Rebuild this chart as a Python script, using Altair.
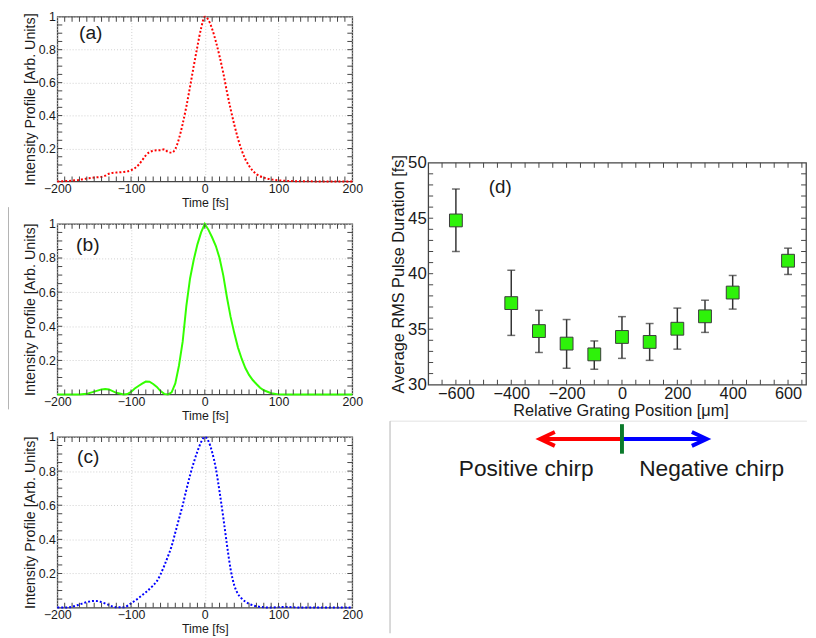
import altair as alt
import pandas as pd

FONT = "Liberation Sans"
INK = "#1a1a1a"
FRAME = "#444444"
GRID = "#cfcfcf"

# ---------------- data: panel (a) ----------------
a_time = [-200, -190, -180, -170, -160, -150, -140, -135, -130, -125, -120, -110, -100,
          -95, -90, -85, -80, -75, -70, -65, -60, -55, -50, -45, -40, -35, -30, -25, -20,
          -15, -10, -5, 0, 5, 10, 15, 20, 25, 30, 35, 40, 45, 50, 55, 60, 70, 80, 90, 100,
          110, 120, 140, 160, 180, 200]
a_int = [0.0, 0.002, 0.005, 0.01, 0.018, 0.024, 0.028, 0.035, 0.047, 0.052, 0.054, 0.058, 0.068,
         0.08, 0.1, 0.128, 0.158, 0.178, 0.186, 0.19, 0.19, 0.195, 0.18, 0.175, 0.197, 0.26, 0.35,
         0.455, 0.575, 0.7, 0.82, 0.93, 1.0, 0.98, 0.925, 0.85, 0.76, 0.66, 0.545, 0.44, 0.345,
         0.26, 0.19, 0.135, 0.095, 0.045, 0.023, 0.013, 0.007, 0.004, 0.002, 0.001, 0.0, 0.0, 0.0]

# ---------------- data: panel (b) ----------------
b_time = [-200, -180, -170, -160, -150, -140, -135, -130, -120, -110, -105, -100, -95, -90,
          -85, -80, -75, -70, -65, -60, -55, -50, -45, -40, -35, -30, -25, -20, -15, -10, -5,
          0, 5, 10, 15, 20, 25, 30, 35, 40, 45, 50, 55, 60, 65, 70, 75, 80, 90, 100, 110, 150, 200]
b_int = [0, 0, 0, 0.004, 0.017, 0.03, 0.033, 0.03, 0.01, 0, 0.003, 0.015, 0.035, 0.05,
         0.064, 0.076, 0.075, 0.062, 0.045, 0.02, 0.004, 0, 0.013, 0.065, 0.17, 0.31, 0.52, 0.68,
         0.79, 0.88, 0.95, 1.0, 0.965, 0.92, 0.87, 0.8, 0.7, 0.57, 0.455, 0.36, 0.275, 0.21,
         0.155, 0.115, 0.085, 0.062, 0.04, 0.025, 0.008, 0.001, 0, 0, 0]

# ---------------- data: panel (c) ----------------
c_time = [-200, -190, -180, -170, -160, -150, -145, -140, -130, -120, -110, -100, -90, -80, -70,
          -65, -60, -55, -50, -45, -40, -35, -30, -25, -20, -15, -10, -5, 0, 5, 10, 15, 20, 25,
          30, 35, 40, 45, 50, 55, 60, 70, 80, 90, 100, 110, 120, 130, 200]
c_int = [0, 0, 0.005, 0.018, 0.032, 0.039, 0.038, 0.032, 0.015, 0.002, 0.002, 0.025, 0.055, 0.09,
         0.13, 0.155, 0.195, 0.245, 0.3, 0.36, 0.44, 0.52, 0.6, 0.69, 0.775, 0.85, 0.915, 0.97,
         1.0, 0.975, 0.91, 0.815, 0.68, 0.53, 0.37, 0.225, 0.13, 0.08, 0.053, 0.035, 0.022,
         0.008, 0.002, 0, 0.003, 0.004, 0.002, 0, 0]

time_ticks = [-200, -100, 0, 100, 200]
int_ticks = [0.2, 0.4, 0.6, 0.8, 1]
time_minor = [-190, -180, -170, -160, -150, -140, -130, -120, -110, -100, -90, -80, -70, -60,
              -50, -40, -30, -20, -10, 0, 10, 20, 30, 40, 50, 60, 70, 80, 90, 100, 110, 120,
              130, 140, 150, 160, 170, 180, 190]
int_minor = [0.05, 0.1, 0.15, 0.2, 0.25, 0.3, 0.35, 0.4, 0.45, 0.5, 0.55, 0.6, 0.65, 0.7,
             0.75, 0.8, 0.85, 0.9, 0.95]

# ---------------- data: panel (d) ----------------
grating_pos = [-600, -400, -300, -200, -100, 0, 100, 200, 300, 400, 600]
rms_dur = [44.8, 37.35, 34.83, 33.7, 32.73, 34.3, 33.85, 35.04, 36.16, 38.3, 41.17]
dur_hi = [47.63, 40.31, 36.7, 35.87, 33.94, 36.13, 35.51, 36.9, 37.61, 39.84, 42.3]
dur_lo = [42.0, 34.44, 32.9, 31.48, 31.39, 32.37, 32.19, 33.2, 34.71, 36.81, 39.93]
grating_ticks = [-600, -400, -200, 0, 200, 400, 600]
dur_ticks = [30, 35, 40, 45, 50]
grating_minor = [-650, -600, -550, -500, -450, -400, -350, -300, -250, -200, -150, -100, -50,
                 0, 50, 100, 150, 200, 250, 300, 350, 400, 450, 500, 550, 600, 650]
dur_minor = [31, 32, 33, 34, 35, 36, 37, 38, 39, 40, 41, 42, 43, 44, 45, 46, 47, 48, 49]

# chirp annotation under panel (d), in panel (d) data units
chirp_labels = ["Positive chirp", "Negative chirp"]
chirp_label_pos = [-346, 324]
chirp_label_y = 21.73
arrow_tips = [-296, 306]
arrow_colors = ["#ff0000", "#0000ff"]
arrow_y = 25.11
zero_mark = [0, 26.44, 23.78]

FULL_W = 299
TICK = 5


def frame_ticks(X, Y, xf, yf, xmin, xmax, ymin, ymax, xvals, yvals):
    """Small inward ticks along the four edges of a panel."""
    out = []
    for yv, off in ((ymin, -TICK / 2), (ymax, TICK / 2)):
        df = pd.DataFrame({xf: xvals, yf: [yv] * len(xvals)})
        out.append(alt.Chart(df).mark_tick(orient="vertical", size=TICK, thickness=1,
                                           color=FRAME, yOffset=off, opacity=1).encode(
            x=X(xf), y=Y(yf)))
    for xv, off in ((xmin, TICK / 2), (xmax, -TICK / 2)):
        df = pd.DataFrame({xf: [xv] * len(yvals), yf: yvals})
        out.append(alt.Chart(df).mark_tick(orient="horizontal", size=TICK, thickness=1,
                                           color=FRAME, xOffset=off, opacity=1).encode(
            x=X(xf), y=Y(yf)))
    return out


def profile_panel(time, inten, color, dash, label, lab_t, lab_i, height, interp, extras):
    xs = alt.Scale(domain=[-200, 200], nice=False, zero=False)
    ys = alt.Scale(domain=[0, 1], nice=False, zero=False)
    xax = alt.Axis(values=time_ticks, title="Time [fs]", labelFontSize=12.5, titleFontSize=12.5,
                   labelPadding=1, titlePadding=1.5, tickSize=0, grid=True, gridColor=GRID,
                   gridDash=[1, 2], domain=False, labelFlush=False, labelColor=INK,
                   titleColor=INK, titleFontWeight="normal")
    yax = alt.Axis(values=int_ticks, format="~g", title="Intensity Profile [Arb. Units]",
                   labelFontSize=12.5, titleFontSize=14.5, labelPadding=2, titlePadding=1,
                   tickSize=0, grid=True, gridColor=GRID, gridDash=[1, 2], domain=False,
                   labelColor=INK, titleColor=INK, titleFontWeight="normal")

    def X(f):
        return alt.X(f, type="quantitative", scale=xs, axis=xax)

    def Y(f):
        return alt.Y(f, type="quantitative", scale=ys, axis=yax)

    df = pd.DataFrame({"t": time, "i": inten})
    mk = dict(color=color, strokeWidth=2, interpolate=interp)
    if dash:
        mk["strokeDash"] = dash
    line = alt.Chart(df).mark_line(**mk).encode(x=X("t"), y=Y("i"))
    lab = alt.Chart(pd.DataFrame({"t": [lab_t], "i": [lab_i], "s": [label]})).mark_text(
        align="left", baseline="middle", fontSize=19.5, color=INK).encode(
        x=X("t"), y=Y("i"), text="s:N")
    layers = [line, lab] + frame_ticks(X, Y, "t", "i", -200, 200, 0, 1, time_minor, int_minor)
    for e in extras:
        edf = pd.DataFrame({"t": [e["t"]], "t2": [e["t2"]], "i": [e["i"]], "i2": [e["i2"]]})
        layers.append(alt.Chart(edf).mark_rule(color=e["color"], strokeWidth=1,
                                               opacity=e["op"]).encode(
            x=X("t"), x2="t2:Q", y=Y("i"), y2="i2:Q"))
    return alt.layer(*layers).properties(width=FULL_W, height=height)


# invisible anchor (top extent of left column) and page edge line
anchor_a = dict(t=-265.6, t2=150, i=1.048, i2=1.048, color="#ffffff", op=0)
edge_b = dict(t=-266.2, t2=-266.2, i=1.098, i2=-0.087, color="#b3b3b3", op=1)

pa = profile_panel(a_time, a_int, "#ff0000", [2, 2], "(a)", -170.6, 0.901, 167, "monotone", [anchor_a])
pb = profile_panel(b_time, b_int, "#33ff00", None, "(b)", -174.6, 0.873, 173, "linear", [edge_b])
pc = profile_panel(c_time, c_int, "#0000ff", [2, 2], "(c)", -173.2, 0.884, 173, "monotone", [])

left = alt.vconcat(pa, pb, pc, spacing=43, bounds="flush")

# ---------------- panel (d) ----------------
dxs = alt.Scale(domain=[-700, 665], nice=False, zero=False)
dys = alt.Scale(domain=[30, 50], nice=False, zero=False)
dxax = alt.Axis(values=grating_ticks, title="Relative Grating Position [μm]", labelFontSize=16.5,
                titleFontSize=16.5, labelPadding=1, titlePadding=1, tickSize=0, grid=False,
                domain=False, labelFlush=False, titleX=195, labelColor=INK, titleColor=INK,
                titleFontWeight="normal")
dyax = alt.Axis(values=dur_ticks, title="Average RMS Pulse Duration [fs]", labelFontSize=17,
                titleFontSize=16.5, labelPadding=2, titlePadding=1, tickSize=0, grid=False,
                domain=False, labelColor=INK, titleColor=INK, titleFontWeight="normal")


def DX(f):
    return alt.X(f, type="quantitative", scale=dxs, axis=dxax)


def DY(f):
    return alt.Y(f, type="quantitative", scale=dys, axis=dyax)


d_df = pd.DataFrame({"pos": grating_pos, "dur": rms_dur, "lo": dur_lo, "hi": dur_hi})
err = alt.Chart(d_df).mark_rule(color="#333333", strokeWidth=1.5).encode(
    x=DX("pos"), y=DY("lo"), y2="hi:Q")
cap_hi = alt.Chart(d_df).mark_tick(orient="horizontal", size=8, thickness=1.5, color="#333333").encode(
    x=DX("pos"), y=DY("hi"))
cap_lo = alt.Chart(d_df).mark_tick(orient="horizontal", size=8, thickness=1.5, color="#333333").encode(
    x=DX("pos"), y=DY("lo"))
squares = alt.Chart(d_df).mark_square(size=169, fill="#2ef20a", stroke="#3a3a3a", strokeWidth=1,
                                      opacity=1).encode(x=DX("pos"), y=DY("dur"))
d_label = alt.Chart(pd.DataFrame({"pos": [-481], "dur": [47.78], "s": ["(d)"]})).mark_text(
    align="left", baseline="middle", fontSize=19, color=INK).encode(x=DX("pos"), y=DY("dur"), text="s:N")

shaft_df = pd.DataFrame({"pos": [0, 0], "pos2": arrow_tips, "dur": [arrow_y, arrow_y], "c": arrow_colors})
shafts = alt.Chart(shaft_df).mark_rule(strokeWidth=4).encode(
    x=DX("pos"), x2="pos2:Q", y=DY("dur"), color=alt.Color("c:N", scale=None))
head_l = alt.Chart(pd.DataFrame({"pos": [arrow_tips[0]], "dur": [arrow_y]})).mark_point(
    shape="M1,-0.47L0,0L1,0.47", size=900, filled=False, color=arrow_colors[0], strokeWidth=4,
    opacity=1).encode(x=DX("pos"), y=DY("dur"))
head_r = alt.Chart(pd.DataFrame({"pos": [arrow_tips[1]], "dur": [arrow_y]})).mark_point(
    shape="M-1,-0.47L0,0L-1,0.47", size=900, filled=False, color=arrow_colors[1], strokeWidth=4,
    opacity=1).encode(x=DX("pos"), y=DY("dur"))
zero_tick = alt.Chart(pd.DataFrame({"pos": [zero_mark[0]], "dur": [zero_mark[1]], "d2": [zero_mark[2]]})).mark_rule(
    color="#0b7a2b", strokeWidth=4).encode(x=DX("pos"), y=DY("dur"), y2="d2:Q")
chirp_txt = alt.Chart(pd.DataFrame({"pos": chirp_label_pos, "dur": [chirp_label_y] * 2, "s": chirp_labels})).mark_text(
    align="center", baseline="alphabetic", fontSize=23, color=INK).encode(x=DX("pos"), y=DY("dur"), text="s:N")

# page-crop edge lines (panel (d) units)
edge_h = alt.Chart(pd.DataFrame({"pos": [-838], "pos2": [668], "dur": [26.71]})).mark_rule(
    color="#e2e2e2", strokeWidth=1).encode(x=DX("pos"), x2="pos2:Q", y=DY("dur"))
edge_v = alt.Chart(pd.DataFrame({"pos": [-838], "dur": [26.71], "d2": [7.6]})).mark_rule(
    color="#b3b3b3", strokeWidth=1).encode(x=DX("pos"), y=DY("dur"), y2="d2:Q")

d_ticks = frame_ticks(DX, DY, "pos", "dur", -700, 665, 30, 50, grating_minor, dur_minor)

pd_chart = alt.layer(err, cap_hi, cap_lo, squares, d_label, shafts, head_l, head_r, zero_tick,
                     chirp_txt, edge_h, edge_v, *d_ticks).properties(width=383, height=225)

# empty space above panel (d)
spacer = alt.Chart(pd.DataFrame({"v": [0]})).mark_rule(opacity=0).encode(
    x=alt.value(0), x2=alt.value(1), y=alt.value(0)
).properties(width=383, height=148, view=alt.ViewBackground(stroke="transparent"))

right = alt.vconcat(spacer, pd_chart, spacing=0, bounds="flush")

chart = alt.hconcat(left, right, spacing=25).properties(
    padding={"left": -1, "top": -4.5, "right": 0, "bottom": 0}
).configure(font=FONT).configure_view(stroke=FRAME, strokeWidth=1.3).configure_axis(
    labelFont=FONT, titleFont=FONT)

chart.save("out.html", embed_options={"renderer": "svg", "actions": False})
